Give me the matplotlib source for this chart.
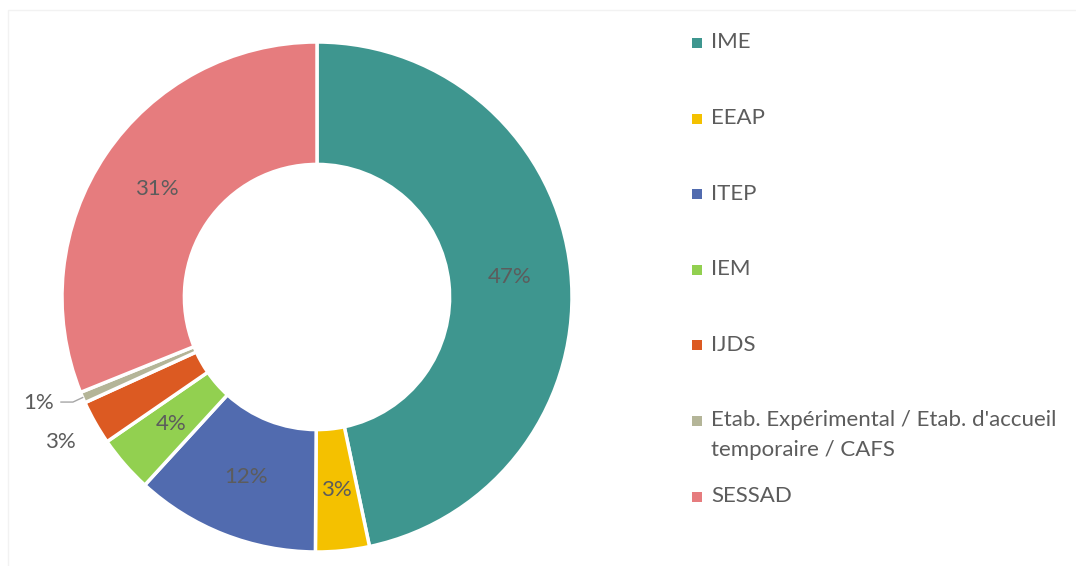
import matplotlib
matplotlib.use("Agg")
import matplotlib.pyplot as plt
from matplotlib.patches import Rectangle
import numpy as np

# data
categories = ["IME", "EEAP", "ITEP", "IEM", "IJDS",
              "Etab. Expérimental / Etab. d'accueil\ntemporaire / CAFS", "SESSAD"]
shares = [46.7, 3.4, 11.7, 3.6, 2.8, 0.7, 31.1]
pct_labels = ["47%", "3%", "12%", "4%", "3%", "1%", "31%"]
colors = ["#3E968F", "#F4C100", "#516BAF", "#92D050", "#DC5A22", "#B4B598", "#E67C7E"]

txt_color = "#5c5c5c"
plt.rcParams["font.family"] = ["Lato", "DejaVu Sans"]

fig = plt.figure(figsize=(10.76, 5.66), dpi=100)
W, H = 1076, 566

# faint chart-area border
fig.patches.append(Rectangle((8 / W, -0.1), 1.2, (566 - 10) / H + 0.1, transform=fig.transFigure,
                             fill=False, edgecolor="#f2f2f2", linewidth=1.0))

# donut axes: centre (317, 297) px, radius 255 px
cx, cy, R = 317, 297, 255
ax = fig.add_axes([(cx - R) / W, (H - cy - R) / H, 2 * R / W, 2 * R / H])
wedges, _ = ax.pie(shares, colors=colors, startangle=90, counterclock=False,
                   wedgeprops=dict(width=0.48, edgecolor="white", linewidth=2.5))
ax.set_xlim(-1, 1)
ax.set_ylim(-1, 1)
ax.set_aspect("equal")
ax.axis("off")

fs = 16
for i, (w, lab) in enumerate(zip(wedges, pct_labels)):
    mid = np.deg2rad((w.theta1 + w.theta2) / 2)
    if i == 4:
        r = 1.155
        ax.text(r * np.cos(mid), r * np.sin(mid), lab, ha="center", va="center",
                fontsize=fs, color=txt_color)
    elif i == 5:
        x0, y0 = np.cos(mid), np.sin(mid)
        ax.plot([x0, -0.957, -1.004], [y0, -0.412, -0.412], color="#a6a6a6",
                linewidth=1.0, clip_on=False)
        ax.text(-1.03, -0.416, lab, ha="right", va="center", fontsize=fs, color=txt_color)
    else:
        r = 0.76
        ax.text(r * np.cos(mid), r * np.sin(mid), lab, ha="center", va="center",
                fontsize=fs, color=txt_color)

# legend on the right
lx_marker, lx_text = 697, 711
y_first, step = 43, 75.6
for i, (name, c) in enumerate(zip(categories, colors)):
    y = y_first + i * step
    fig.patches.append(Rectangle(((lx_marker - 5) / W, (H - y - 5) / H), 10 / W, 10 / H,
                                 transform=fig.transFigure, facecolor=c, edgecolor="none"))
    fig.text(lx_text / W, (H - y + 10.5) / H, name, ha="left", va="top", fontsize=fs,
             color=txt_color, linespacing=1.62)

fig.savefig("out.png", dpi=100, facecolor="white")
